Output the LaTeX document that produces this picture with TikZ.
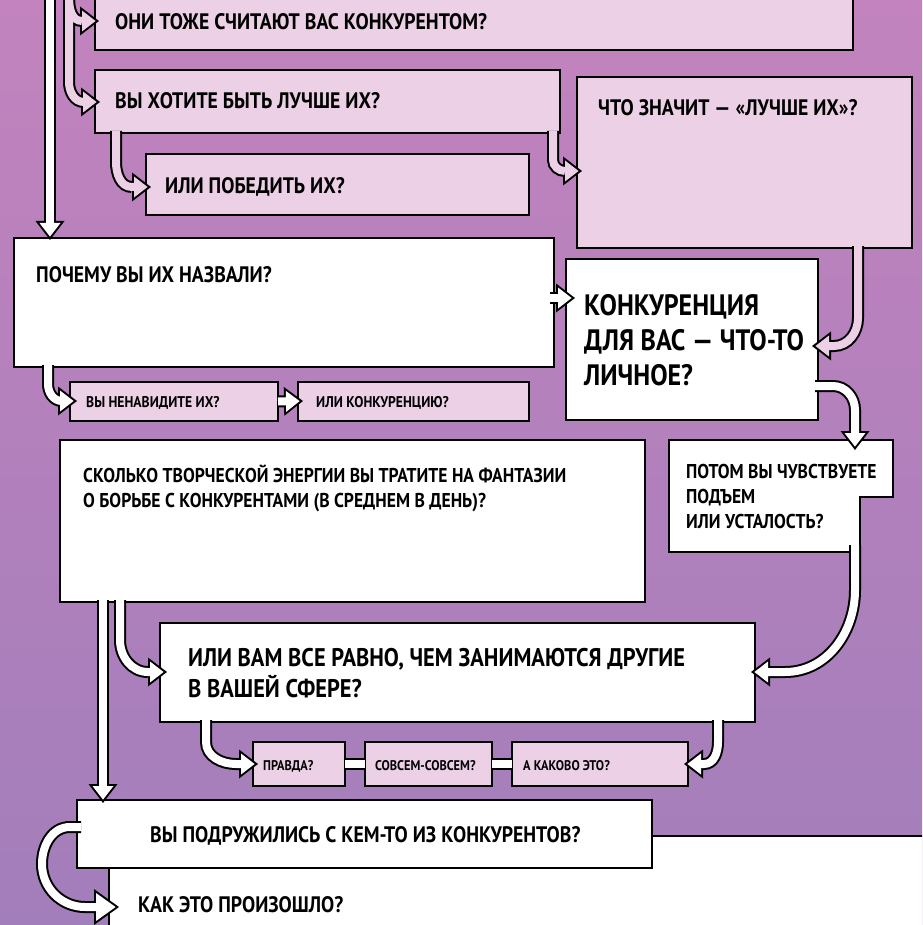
\documentclass[tikz,border=0pt]{standalone}
\usepackage{fontspec}
\newfontfamily\lettering{PT Sans}[FakeStretch=0.88]
\usetikzlibrary{arrows.meta,calc}
\definecolor{bgtop}{RGB}{194,131,190}
\definecolor{bgbottom}{RGB}{162,126,186}
\definecolor{pinkbox}{RGB}{236,209,230}
\pgfdeclarelayer{arrowline}
\pgfdeclarelayer{arrowfill}
\pgfsetlayers{main,arrowline,arrowfill}
% #1 fill colour, #2 end kind (head, big, bar), #3 path
\newcommand{\fatlink}[3][white]{%
  \begin{pgfonlayer}{arrowline}\draw[arrline,#2line] #3;\end{pgfonlayer}%
  \begin{pgfonlayer}{arrowfill}\draw[arrfill,#2fill,#1] #3;\end{pgfonlayer}}

\begin{document}
\begin{tikzpicture}[x=1pt,y=-1pt,
  boxline/.style={draw=black, line width=1.8pt},
  pinkq/.style={boxline, fill=pinkbox, anchor=north west, inner sep=0pt, outer sep=0pt},
  whiteq/.style={pinkq, fill=white},
  wh/.style 2 args={minimum width=#1pt, minimum height=#2pt},
  say/.style={anchor=base west, inner sep=0pt, align=left, font=\lettering\bfseries\fontsize{22.4}{27}\selectfont},
  fs/.style 2 args={font=\lettering\bfseries\fontsize{#1}{#2}\selectfont},
  arrline/.style={line width=12pt, black},
  arrfill/.style={line width=8pt},
  headline/.style={-{Triangle[length=19pt,width=29pt,line width=0pt]}},
  headfill/.style={shorten >=3.4pt, -{Triangle[length=13.6pt,width=21pt,line width=0pt]}},
  bigline/.style={-{Triangle[length=25pt,width=36pt,line width=0pt]}},
  bigfill/.style={shorten >=3.4pt, -{Triangle[length=19.6pt,width=28pt,line width=0pt]}},
  barline/.style={}, barfill/.style={}]
  \useasboundingbox (0,0) rectangle (922,925);
  \clip (0,0) rectangle (922,925);
  \fill[top color=bgtop, bottom color=bgbottom] (0,0) rectangle (922,925);

  % boxes
  \node[pinkq, wh={758}{62}] (rivals) at (95,-12) {};
  \node[pinkq, wh={465}{63}] (better) at (95,70) {};
  \node[pinkq, wh={383}{61}] (defeat) at (146,154) {};
  \node[pinkq, wh={335}{171}] (meaning) at (577,77) {};
  \node[whiteq, wh={540}{129}] (why) at (14,238) {};
  \node[pinkq, wh={208}{39}] (hate) at (70,382) {};
  \node[pinkq, wh={231}{39}] (rivalry) at (298,382) {};
  \node[whiteq, wh={252}{161}] (personal) at (566,259) {};
  \node[pinkq, draw=none, fill=none, wh={224}{112}] (feeling) at (669,440) {};
  \filldraw[boxline, fill=white] (feeling.north west) -- (feeling.north east) -- ++(0,57) -- ++(-33,0)
    |- (feeling.south west) -- cycle;
  \node[whiteq, wh={585}{162}] (energy) at (60,440) {};
  \node[whiteq, wh={595}{99}] (indiff) at (160,623) {};
  \node[pinkq, wh={92}{44}] (really) at (253,742) {};
  \node[pinkq, wh={127}{44}] (totally) at (365,742) {};
  \node[pinkq, wh={176}{44}] (howis) at (512,742) {};
  \node[whiteq, wh={832}{104}] (how) at (109,836) {};
  \node[whiteq, wh={575}{68}] (friends) at (77,800) {};

  % texts (base = last line)
  \node[say] (trivals) at (115,30) {ОНИ ТОЖЕ СЧИТАЮТ ВАС КОНКУРЕНТОМ?};
  \node[say] (tbetter) at (115,109) {ВЫ ХОТИТЕ БЫТЬ ЛУЧШЕ ИХ?};
  \node[say] (tdefeat) at (165,194) {ИЛИ ПОБЕДИТЬ ИХ?};
  \node[say] (tmeaning) at (598,116) {ЧТО ЗНАЧИТ — «ЛУЧШЕ ИХ»?};
  \node[say] (twhy) at (36,282) {ПОЧЕМУ ВЫ ИХ НАЗВАЛИ?};
  \node[say, fs={15.5}{18}] (thate) at (86,407) {ВЫ НЕНАВИДИТЕ ИХ?};
  \node[say, fs={15.5}{18}] (trivalry) at (316,407) {ИЛИ КОНКУРЕНЦИЮ?};
  \node[say, fs={29.5}{35}] (tpersonal) at (584,385) {КОНКУРЕНЦИЯ\\ДЛЯ ВАС — ЧТО-ТО\\ЛИЧНОЕ?};
  \node[say, fs={20}{25}] (tfeeling) at (686,528) {ПОТОМ ВЫ ЧУВСТВУЕТЕ\\ПОДЪЕМ\\ИЛИ УСТАЛОСТЬ?};
  \node[say, fs={20}{25}] (tenergy) at (83,507) {СКОЛЬКО ТВОРЧЕСКОЙ ЭНЕРГИИ ВЫ ТРАТИТЕ НА ФАНТАЗИИ\\О БОРЬБЕ С КОНКУРЕНТАМИ (В СРЕДНЕМ В ДЕНЬ)?};
  \node[say, fs={25.5}{31}] (tindiff) at (188,697) {ИЛИ ВАМ ВСЕ РАВНО, ЧЕМ ЗАНИМАЮТСЯ ДРУГИЕ\\В ВАШЕЙ СФЕРЕ?};
  \node[say, fs={14}{16}] (treally) at (263,770) {ПРАВДА?};
  \node[say, fs={14}{16}] (ttotally) at (375,770) {СОВСЕМ-СОВСЕМ?};
  \node[say, fs={14}{16}] (thowis) at (523,770) {А КАКОВО ЭТО?};
  \node[say] (tfriends) at (150,842) {ВЫ ПОДРУЖИЛИСЬ С КЕМ-ТО ИЗ КОНКУРЕНТОВ?};
  \node[say] (thow) at (138,912) {КАК ЭТО ПРОИЗОШЛО?};

  % arrows
  \coordinate (down) at (50,-15);
  \coordinate (trunk) at (69,-15);
  \fatlink{head}{(down) -- ($(down |- why.north)+(0,2)$)}
  \fatlink[pinkbox]{head}{(trunk) -- (69,-2) to[out=-90,in=180] (82,21) -- (99,21)}
  \fatlink[pinkbox]{head}{(trunk) -- (69,82) to[out=-90,in=180] (84,102) -- (100,102)}
  \fatlink[pinkbox]{head}{(116,131) -- (116,162) to[out=-90,in=180] (132,187) -- (151,187)}
  \fatlink[pinkbox]{head}{(553,131) -- (553,160) to[out=-90,in=180] (565,171) -- (582,171)}
  \fatlink{head}{(550,298) -- (575,298)}
  \fatlink{head}{(48,365) -- (48,384) to[out=-90,in=180] (62,401) -- (77,401)}
  \fatlink{head}{(hate.east) -- (303,401)}
  \fatlink[pinkbox]{head}{(858,246) -- (858,318) to[out=-90,in=0] (834,346) -- (812,346)}
  \fatlink{head}{(815,386) -- (833,386) to[out=0,in=90] (855,410) -- (855,450)}
  \fatlink{head}{(855,545) -- (855,590) to[out=-90,in=0] (785,672) -- (751,672)}
  \fatlink{head}{(120,600) -- (120,640) to[out=-90,in=180] (148,672) -- (167,672)}
  \fatlink{head}{(103,600) -- ($(103,0 |- friends.north)+(0,3)$)}
  \fatlink{head}{(206,720) -- (206,742) to[out=-90,in=180] (236,764) -- (258,764)}
  \fatlink{head}{(718,720) -- (718,742) to[out=-90,in=0] (704,764) -- (684,764)}
  \fatlink{bar}{(really.east) -- (totally.west)}
  \fatlink{bar}{(totally.east) -- (howis.west)}
  \fatlink{big}{(81,827) -- (70,827) to[out=180,in=90] (42,864) to[out=-90,in=180] (85,907) -- (119,907)}
\end{tikzpicture}
\end{document}
